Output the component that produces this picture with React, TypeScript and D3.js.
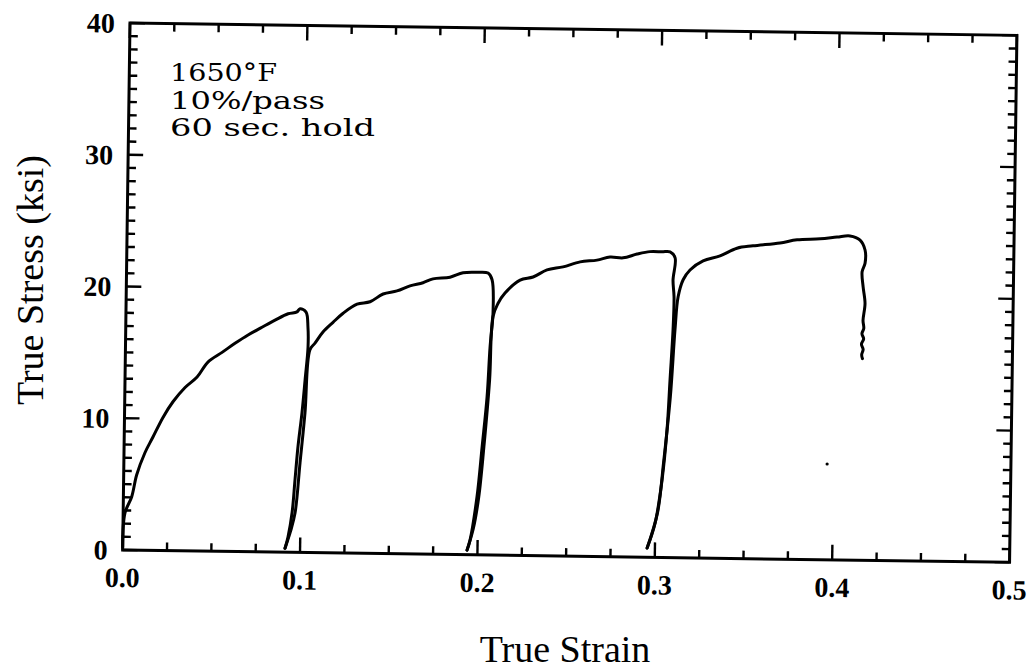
import React from 'react';
import * as d3 from 'd3';

type Pt = [number, number];

const xTickValues = [0, 0.1, 0.2, 0.3, 0.4, 0.5];
const xTickLabels = ['0.0', '0.1', '0.2', '0.3', '0.4', '0.5'];
const yTickValues = [0, 10, 20, 30, 40];
const yTickLabels = ['0', '10', '20', '30', '40'];
const annotationLines = ['1650°F', '10%/pass', '60 sec. hold'];
const xTitle = 'True Strain';
const yTitle = 'True Stress (ksi)';

// [true strain, true stress (ksi)]
const pass1: Pt[] = [
  [0.0, 0.2], [0.001, 2.8], [0.0047, 4.05], [0.0073, 5.7], [0.0118, 7.4], [0.0162, 8.6],
  [0.0217, 10.1], [0.0272, 11.3], [0.0339, 12.4], [0.0406, 13.2], [0.0466, 14.35],
  [0.0545, 15.1], [0.0617, 15.8], [0.069, 16.45], [0.0768, 17.05], [0.0841, 17.6],
  [0.0914, 18.1], [0.0964, 18.25], [0.0981, 18.5], [0.1015, 18.25], [0.1027, 17.1],
  [0.1029, 15.6], [0.1015, 13.1], [0.1, 10.6], [0.098, 8.0], [0.0966, 5.5],
  [0.0952, 3.0], [0.0931, 1.15], [0.0915, 0.3],
];
const pass2: Pt[] = [
  [0.0915, 0.3], [0.0945, 1.6], [0.0969, 3.0], [0.0993, 6.8], [0.1017, 10.6], [0.104, 15.4],
  [0.1068, 15.9], [0.1112, 16.75], [0.1168, 17.5], [0.1224, 18.2], [0.1302, 18.9],
  [0.1375, 19.1], [0.1448, 19.7], [0.1526, 19.95], [0.1599, 20.35], [0.1672, 20.6],
  [0.1728, 20.9], [0.1824, 21.05], [0.1897, 21.4], [0.1976, 21.45], [0.2038, 21.4],
  [0.2061, 20.9], [0.2069, 18.4], [0.2055, 15.8], [0.2042, 12.0], [0.2018, 8.2],
  [0.1993, 4.4], [0.1957, 1.1], [0.1941, 0.35],
];
const pass3: Pt[] = [
  [0.1941, 0.35], [0.1975, 2.0], [0.2003, 4.4], [0.2028, 8.2], [0.2055, 13.3], [0.2069, 18.1],
  [0.2096, 19.1], [0.2135, 19.9], [0.2219, 20.9], [0.2292, 21.15], [0.237, 21.7],
  [0.246, 21.95], [0.2556, 22.35], [0.2651, 22.5], [0.2724, 22.75], [0.2798, 22.7],
  [0.2876, 23.0], [0.2949, 23.2], [0.3017, 23.2], [0.3062, 23.2], [0.3091, 22.75],
  [0.3081, 21.05], [0.3088, 19.8], [0.3085, 17.3], [0.3072, 13.5], [0.3059, 9.7],
  [0.3035, 5.9], [0.2999, 2.6], [0.2956, 0.7],
];
const pass4: Pt[] = [
  [0.2956, 0.7], [0.3012, 3.4], [0.3042, 7.2], [0.3075, 12.2], [0.3096, 17.3], [0.3111, 19.8],
  [0.3138, 21.1], [0.3176, 21.85], [0.3249, 22.55], [0.3344, 22.95], [0.3439, 23.55],
  [0.3529, 23.75], [0.3681, 24.0], [0.3777, 24.25], [0.3907, 24.35], [0.4002, 24.5],
  [0.4075, 24.6], [0.4132, 24.3], [0.4161, 23.55], [0.4162, 22.55], [0.4146, 21.9],
  [0.4153, 20.75], [0.4165, 19.5], [0.4155, 18.2], [0.416, 17.6], [0.415, 17.2],
  [0.416, 16.8], [0.4148, 16.4], [0.4158, 16.0], [0.415, 15.6], [0.4155, 15.3],
];
const strayDots: Pt[] = [[0.3964, 7.27]];

const passes = [pass1, pass2, pass3, pass4];

export default function App() {
  const W = 887;
  const H = 527;
  const x = d3.scaleLinear().domain([0, 0.5]).range([0, W]);
  const y = d3.scaleLinear().domain([0, 40]).range([H, 0]);
  const line = d3
    .line<Pt>()
    .x((d) => x(d[0]))
    .y((d) => y(d[1]))
    .curve(d3.curveCatmullRom.alpha(0.5));

  const xMinor = d3.range(0, 21).map((i) => i * 0.025).filter((_, i) => i % 4 !== 0);
  const yMinor = d3.range(0, 41).filter((v) => v % 10 !== 0);
  const majLen = 15;
  const minLen = 8;
  const tickStroke = 2.4;
  const labelFont = "'Liberation Serif', 'Times New Roman', serif";

  return (
    <svg
      width={1032}
      height={669}
      style={{ position: 'absolute', left: 0, top: 0, background: '#fff' }}
    >
      <rect x={0} y={0} width={1032} height={669} fill="#fff" />
      <g transform="translate(130,23) rotate(0.8)">
        {xMinor.map((v) => (
          <g key={'xm' + v}>
            <line x1={x(v)} x2={x(v)} y1={H} y2={H - minLen} stroke="#000" strokeWidth={tickStroke} />
            <line x1={x(v)} x2={x(v)} y1={0} y2={minLen} stroke="#000" strokeWidth={tickStroke} />
          </g>
        ))}
        {xTickValues.map((v) => (
          <g key={'xM' + v}>
            <line x1={x(v)} x2={x(v)} y1={H} y2={H - majLen} stroke="#000" strokeWidth={tickStroke} />
            <line x1={x(v)} x2={x(v)} y1={0} y2={majLen} stroke="#000" strokeWidth={tickStroke} />
          </g>
        ))}
        {yMinor.map((v) => (
          <g key={'ym' + v}>
            <line x1={0} x2={minLen} y1={y(v)} y2={y(v)} stroke="#000" strokeWidth={tickStroke} />
            <line x1={W} x2={W - minLen} y1={y(v)} y2={y(v)} stroke="#000" strokeWidth={tickStroke} />
          </g>
        ))}
        {yTickValues.map((v) => (
          <g key={'yM' + v}>
            <line x1={0} x2={majLen} y1={y(v)} y2={y(v)} stroke="#000" strokeWidth={tickStroke} />
            <line x1={W} x2={W - majLen} y1={y(v)} y2={y(v)} stroke="#000" strokeWidth={tickStroke} />
          </g>
        ))}
        <rect x={0} y={0} width={W} height={H} fill="none" stroke="#000" strokeWidth={3} />

        {passes.map((p, i) => (
          <path key={'p' + i} d={line(p) || ''} fill="none" stroke="#000" strokeWidth={3} strokeLinejoin="round" strokeLinecap="round" />
        ))}
        {strayDots.map((d, i) => (
          <circle key={'d' + i} cx={x(d[0])} cy={y(d[1])} r={1.6} fill="#000" />
        ))}

        {xTickValues.map((v, i) => (
          <text
            key={'xl' + v}
            x={x(v)}
            y={H + 37}
            textAnchor="middle"
            fontFamily={labelFont}
            fontWeight="bold"
            fontSize={28}
          >
            {xTickLabels[i]}
          </text>
        ))}
        {yTickValues.map((v, i) => (
          <text
            key={'yl' + v}
            x={-15}
            y={y(v)}
            dy="0.35em"
            textAnchor="end"
            fontFamily={labelFont}
            fontWeight="bold"
            fontSize={28}
          >
            {yTickLabels[i]}
          </text>
        ))}
      </g>

      {annotationLines.map((t, i) => (
        <text
          key={'a' + i}
          x={170}
          y={81 + i * 27.5}
          fontFamily="'DejaVu Serif', serif"
          fontSize={25}
          textLength={[107, 155, 205][i]}
          lengthAdjust="spacingAndGlyphs"
        >
          {t}
        </text>
      ))}

      <text x={565} y={662} textAnchor="middle" fontFamily={labelFont} fontSize={38}>
        {xTitle}
      </text>
      <text
        transform="translate(43,280) rotate(-90)"
        textAnchor="middle"
        fontFamily={labelFont}
        fontSize={38}
      >
        {yTitle}
      </text>
    </svg>
  );
}
